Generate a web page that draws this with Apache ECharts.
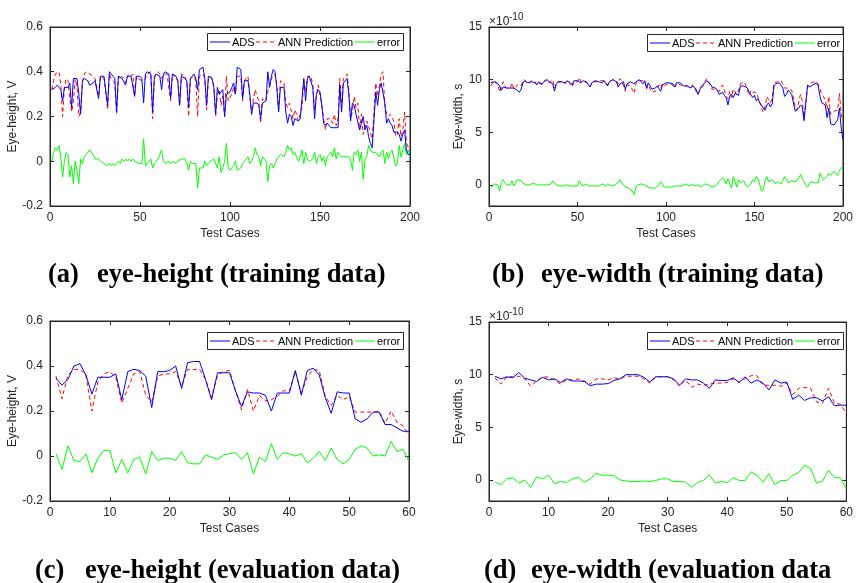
<!DOCTYPE html>
<html>
<head>
<meta charset="utf-8">
<script src="https://cdn.jsdelivr.net/npm/echarts@6/dist/echarts.min.js"></script>
<style>
	html, body { margin: 0; padding: 0; background: #fff; }
	#chart { width: 856px; height: 583px; }
</style>
</head>
<body>
<div id="chart"></div>
<script>
	// (a) eye-height, training data (200 test cases), V
	var adsHeightTrain = [
		0.32,0.32,0.33,0.34,0.33,0.32,0.27,0.33,0.33,0.33, 0.35,0.24,0.37,0.37,0.37,0.30,0.21,0.36,0.37,0.37,
		0.36,0.34,0.34,0.35,0.36,0.36,0.28,0.38,0.38,0.38, 0.38,0.25,0.40,0.39,0.38,0.37,0.22,0.38,0.38,0.37,
		0.37,0.34,0.38,0.38,0.38,0.38,0.29,0.38,0.38,0.38, 0.37,0.26,0.39,0.40,0.40,0.39,0.22,0.38,0.39,0.39,
		0.38,0.32,0.39,0.40,0.40,0.39,0.28,0.39,0.39,0.38, 0.36,0.25,0.38,0.38,0.37,0.36,0.24,0.37,0.38,0.39,
		0.37,0.32,0.41,0.41,0.42,0.37,0.25,0.38,0.38,0.37, 0.33,0.21,0.33,0.30,0.30,0.32,0.20,0.30,0.30,0.31,
		0.33,0.35,0.30,0.42,0.42,0.41,0.28,0.36,0.36,0.36, 0.30,0.21,0.26,0.26,0.26,0.25,0.19,0.26,0.26,0.27,
		0.40,0.33,0.38,0.41,0.40,0.33,0.22,0.33,0.33,0.33, 0.22,0.17,0.21,0.20,0.16,0.19,0.19,0.18,0.19,0.19,
		0.37,0.27,0.37,0.38,0.38,0.33,0.19,0.30,0.32,0.31, 0.25,0.17,0.16,0.17,0.16,0.15,0.15,0.15,0.15,0.15,
		0.34,0.22,0.35,0.36,0.37,0.30,0.18,0.26,0.25,0.21, 0.21,0.14,0.17,0.20,0.14,0.16,0.11,0.08,0.06,0.06,
		0.31,0.25,0.32,0.35,0.35,0.26,0.17,0.19,0.17,0.16, 0.13,0.13,0.13,0.12,0.09,0.12,0.14,0.05,0.03,0.03
	];
	var annHeightTrain = [
		0.32,0.36,0.39,0.39,0.40,0.34,0.20,0.33,0.37,0.36, 0.28,0.22,0.27,0.37,0.33,0.20,0.22,0.35,0.39,0.40,
		0.40,0.39,0.39,0.38,0.37,0.37,0.29,0.38,0.38,0.37, 0.37,0.23,0.39,0.37,0.37,0.35,0.21,0.38,0.37,0.38,
		0.37,0.35,0.38,0.39,0.38,0.39,0.29,0.38,0.37,0.37, 0.36,0.36,0.37,0.39,0.39,0.40,0.19,0.37,0.39,0.40,
		0.39,0.37,0.39,0.39,0.39,0.39,0.27,0.39,0.39,0.37, 0.36,0.25,0.39,0.39,0.38,0.35,0.20,0.37,0.37,0.38,
		0.36,0.20,0.38,0.38,0.39,0.37,0.23,0.37,0.38,0.37, 0.34,0.20,0.30,0.32,0.25,0.29,0.20,0.38,0.27,0.27,
		0.30,0.33,0.30,0.38,0.38,0.38,0.27,0.36,0.36,0.38, 0.29,0.21,0.28,0.32,0.29,0.27,0.17,0.28,0.28,0.27,
		0.31,0.31,0.37,0.38,0.39,0.34,0.23,0.36,0.36,0.35, 0.26,0.24,0.26,0.26,0.19,0.23,0.21,0.18,0.21,0.24,
		0.36,0.31,0.38,0.38,0.38,0.34,0.23,0.29,0.34,0.34, 0.25,0.19,0.14,0.19,0.19,0.19,0.17,0.21,0.16,0.19,
		0.37,0.24,0.37,0.38,0.39,0.32,0.19,0.22,0.29,0.24, 0.26,0.14,0.21,0.12,0.15,0.18,0.18,0.13,0.10,0.10,
		0.35,0.29,0.34,0.39,0.40,0.25,0.21,0.20,0.21,0.21, 0.18,0.11,0.12,0.19,0.11,0.14,0.22,0.08,0.08,0.05
	];
	var errHeightTrain = [
		0.00,0.04,0.06,0.05,0.07,0.02,-0.07,0.00,0.04,0.03, -0.07,-0.02,-0.10,0.00,-0.04,-0.10,0.01,-0.01,0.02,0.03,
		0.04,0.05,0.05,0.03,0.01,0.01,0.01,0.00,0.00,-0.01, -0.01,-0.02,-0.01,-0.02,-0.01,-0.02,-0.01,0.00,-0.01,0.01,
		0.00,0.01,0.00,0.01,0.00,0.01,0.00,0.00,-0.01,-0.01, -0.01,0.10,-0.02,-0.01,-0.01,0.01,-0.03,-0.01,0.00,0.01,
		0.01,0.05,0.00,-0.01,-0.01,0.00,-0.01,0.00,0.00,-0.01, 0.00,0.00,0.01,0.01,0.01,-0.01,-0.04,0.00,-0.01,-0.01,
		-0.01,-0.12,-0.03,-0.03,-0.03,0.00,-0.02,-0.01,0.00,0.00, 0.01,-0.01,-0.03,0.02,-0.05,-0.03,0.00,0.08,-0.03,-0.04,
		-0.03,-0.02,0.00,-0.04,-0.04,-0.03,-0.01,0.00,0.00,0.02, -0.01,0.00,0.02,0.06,0.03,0.02,-0.02,0.02,0.02,0.00,
		-0.09,-0.02,-0.01,-0.03,-0.01,0.01,0.01,0.03,0.03,0.02, 0.04,0.07,0.05,0.06,0.03,0.04,0.02,0.00,0.02,0.05,
		-0.01,0.04,0.01,0.00,0.00,0.01,0.04,-0.01,0.02,0.03, 0.00,0.02,-0.02,0.02,0.03,0.04,0.02,0.06,0.01,0.04,
		0.03,0.02,0.02,0.02,0.02,0.02,0.01,-0.04,0.04,0.03, 0.05,0.00,0.04,-0.08,0.01,0.02,0.07,0.05,0.04,0.04,
		0.04,0.04,0.02,0.04,0.05,-0.01,0.04,0.01,0.04,0.05, 0.05,-0.02,-0.01,0.07,0.02,0.02,0.08,0.03,0.05,0.02
	];

	// (b) eye-width, training data, in units of 1e-10 s
	var adsWidthTrain = [
		9.7,9.7,9.8,9.7,9.6,9.4,9.0,9.3,9.2,9.2, 9.3,9.2,9.3,9.2,9.1,9.0,8.8,9.0,9.6,9.9,
		9.8,9.7,9.6,9.8,9.7,9.7,9.5,9.8,9.8,9.6, 9.8,9.9,10.0,9.8,9.7,9.6,8.9,9.6,9.8,9.9,
		9.8,9.9,9.7,9.9,9.8,9.7,9.5,9.9,9.8,9.9, 9.8,9.7,9.9,9.8,9.8,9.7,9.3,9.7,9.8,9.9,
		9.8,9.8,9.9,9.7,9.9,9.8,9.4,9.8,9.9,10.0, 9.9,9.8,9.3,9.6,9.7,9.8,9.1,9.6,9.7,9.8,
		9.9,9.6,9.8,9.9,10.0,9.8,9.6,9.9,9.2,9.7, 9.4,9.1,9.0,9.2,9.4,9.5,8.9,9.5,9.6,9.7,
		9.8,9.7,9.8,9.6,9.3,9.7,9.8,9.7,9.6,9.4, 9.3,9.4,9.5,9.2,9.4,9.3,9.1,8.6,9.0,9.4,
		9.5,9.7,9.9,9.8,9.6,9.3,9.4,9.2,9.0,8.6, 8.7,8.8,8.5,8.3,7.6,8.4,8.6,8.3,8.7,8.8,
		8.5,9.4,9.5,9.4,9.5,9.2,8.8,8.9,8.3,8.5, 8.0,8.2,7.8,7.9,7.3,7.1,7.6,7.8,7.4,7.7,
		9.4,9.6,9.5,9.7,9.8,9.2,8.4,8.6,9.0,9.0, 8.6,7.8,7.0,6.9,7.3,7.6,7.4,6.1,7.8,9.5,
		9.3,9.4,9.5,9.6,9.7,9.4,8.4,7.8,7.9,7.6, 6.4,7.3,5.8,5.7,5.7,5.8,6.2,7.3,5.4,4.3
	];
	var annWidthTrain = [
		9.4,9.5,9.9,9.9,9.6,8.8,9.3,9.8,9.4,9.2, 9.2,9.2,9.7,9.1,9.3,9.5,9.4,9.4,9.8,10.0,
		9.8,9.6,9.6,9.9,9.9,9.8,9.5,9.7,9.8,9.5, 9.8,10.0,10.0,9.7,9.8,10.0,9.2,9.6,9.7,9.8,
		9.8,9.8,9.6,9.9,9.9,9.6,9.3,9.8,9.8,9.8, 10.2,9.8,9.8,9.8,9.9,9.6,9.3,9.6,9.8,9.8,
		9.8,9.7,9.9,9.8,9.9,9.7,9.5,9.8,9.8,10.0, 9.9,9.9,9.6,10.1,9.9,9.8,8.9,9.5,9.4,9.4,
		9.3,8.7,9.6,9.9,9.9,9.9,9.8,9.9,9.1,9.5, 9.1,8.8,8.8,8.9,9.2,9.5,9.2,9.6,9.4,9.4,
		9.6,9.6,9.6,9.5,9.2,9.7,9.7,9.5,9.5,9.4, 9.4,9.4,9.4,9.2,9.5,9.2,8.9,8.6,8.9,9.2,
		9.4,9.8,10.1,9.8,9.5,9.1,9.1,9.1,9.1,8.9, 9.2,9.5,9.0,8.4,8.2,8.9,8.3,9.1,9.0,8.6,
		9.0,9.6,9.6,9.8,9.5,9.0,8.5,9.0,8.8,8.8, 8.8,8.8,7.8,7.3,6.9,7.5,8.4,8.1,7.8,8.2,
		9.7,9.7,9.8,9.9,9.9,9.6,9.2,9.2,9.2,9.2, 9.0,8.3,7.3,7.1,7.9,8.6,8.0,6.4,7.8,9.3,
		9.4,9.7,9.8,9.8,9.8,9.6,9.5,8.6,8.4,8.0, 7.2,8.4,6.7,6.7,7.0,7.0,7.1,8.7,6.7,6.1
	];
	var errWidthTrain = [
		-0.3,-0.2,0.1,0.2,0.0,-0.6,0.3,0.5,0.2,0.0, -0.1,0.0,0.4,-0.1,0.2,0.5,0.6,0.4,0.2,0.1,
		0.0,-0.1,0.0,0.1,0.2,0.1,0.0,-0.1,0.0,-0.1, 0.0,0.1,0.0,-0.1,0.1,0.4,0.3,0.0,-0.1,-0.1,
		0.0,-0.1,-0.1,0.0,0.1,-0.1,-0.2,-0.1,0.0,-0.1, 0.4,0.1,-0.1,0.0,0.1,-0.1,0.0,-0.1,0.0,-0.1,
		0.0,-0.1,0.0,0.1,0.0,-0.1,0.1,0.0,-0.1,0.0, 0.0,0.1,0.3,0.5,0.2,0.0,-0.2,-0.1,-0.3,-0.4,
		-0.6,-0.9,-0.2,0.0,-0.1,0.1,0.2,0.0,-0.1,-0.2, -0.3,-0.3,-0.2,-0.3,-0.2,0.0,0.3,0.1,-0.2,-0.3,
		-0.2,-0.1,-0.2,-0.1,-0.1,0.0,-0.1,-0.2,-0.1,0.0, 0.1,0.0,-0.1,0.0,0.1,-0.1,-0.2,0.0,-0.1,-0.2,
		-0.1,0.1,0.2,0.0,-0.1,-0.2,-0.3,-0.1,0.1,0.3, 0.5,0.7,0.5,0.1,0.6,0.5,-0.3,0.8,0.3,-0.2,
		0.5,0.2,0.1,0.4,0.0,-0.2,-0.3,0.1,0.5,0.3, 0.8,0.6,0.0,-0.6,-0.4,0.4,0.8,0.3,0.4,0.5,
		0.3,0.1,0.3,0.2,0.1,0.4,0.8,0.6,0.2,0.2, 0.4,0.5,0.3,0.2,0.6,1.0,0.6,0.3,0.0,-0.2,
		0.1,0.3,0.3,0.2,0.1,0.2,1.1,0.8,0.5,0.4, 0.8,1.1,0.9,1.0,1.3,1.2,0.9,1.4,1.3,1.8
	];

	// (c) eye-height, evaluation data (60 test cases), V
	var adsHeightEval = [
		0.345,0.315,0.34,0.40,0.41,0.36,0.275,0.35,0.35,0.35, 0.365,0.25,0.375,0.385,0.38,0.355,0.215,0.375,0.375,0.38,
		0.40,0.30,0.415,0.42,0.42,0.34,0.25,0.37,0.37,0.37, 0.29,0.22,0.285,0.28,0.28,0.27,0.20,0.28,0.28,0.28,
		0.38,0.27,0.38,0.39,0.36,0.26,0.19,0.285,0.28,0.28, 0.165,0.15,0.165,0.195,0.195,0.14,0.14,0.125,0.11,0.11
	];
	var annHeightEval = [
		0.355,0.255,0.36,0.385,0.385,0.36,0.20,0.33,0.365,0.375, 0.35,0.235,0.30,0.365,0.375,0.27,0.24,0.355,0.365,0.365,
		0.375,0.31,0.385,0.385,0.385,0.34,0.26,0.36,0.375,0.38, 0.29,0.205,0.295,0.20,0.27,0.245,0.25,0.265,0.29,0.29,
		0.375,0.28,0.35,0.385,0.38,0.265,0.225,0.27,0.25,0.265, 0.195,0.195,0.195,0.195,0.20,0.145,0.20,0.15,0.135,0.09
	];
	var errHeightEval = [
		0.01,-0.06,0.045,-0.02,-0.025,0.01,-0.075,-0.01,0.025,0.025, -0.075,-0.015,-0.075,-0.015,-0.005,-0.08,0.02,-0.02,-0.01,-0.01,
		-0.02,0.02,-0.03,-0.035,-0.035,0.005,-0.005,-0.015,0.005,0.01, 0.015,-0.015,0.015,-0.08,-0.005,-0.025,0.055,-0.015,0.015,0.01,
		0.0,0.01,-0.03,-0.01,0.02,-0.02,0.035,-0.015,-0.035,-0.015, 0.03,0.045,0.035,0.0,0.005,0.0,0.065,0.02,0.03,-0.025
	];

	// (d) eye-width, evaluation data, in units of 1e-10 s
	var adsWidthEval = [
		9.85,9.6,9.8,9.7,10.2,9.65,9.5,9.35,9.75,9.5, 9.6,9.25,9.6,9.4,9.4,9.35,8.95,9.1,9.1,9.15,
		9.45,9.6,10.0,10.0,10.0,9.75,9.3,9.8,9.8,9.8, 9.6,9.0,9.6,9.5,9.5,9.2,8.7,9.5,9.45,9.45,
		9.7,9.25,9.8,9.2,9.5,9.2,8.55,9.5,9.2,9.3, 7.65,8.05,7.55,7.8,7.8,7.5,7.9,7.05,7.1,7.1
	];
	var annWidthEval = [
		9.7,9.1,9.8,9.8,9.85,9.6,8.9,9.4,9.8,9.75, 9.5,9.1,9.5,9.5,9.6,9.4,9.1,9.6,9.6,9.5,
		9.7,9.6,9.85,9.85,9.85,9.6,9.2,9.75,9.8,9.8, 9.5,8.9,9.5,8.8,9.1,9.0,9.1,9.2,9.2,9.25,
		9.6,9.3,9.6,9.9,9.9,9.0,9.0,9.0,8.9,9.2, 8.1,8.7,8.8,8.7,7.4,7.3,8.7,7.3,7.2,6.3
	];
	var errWidthEval = [
		-0.2,-0.45,0.1,0.2,-0.3,0.0,-0.7,0.3,0.1,0.45, -0.35,-0.15,-0.25,0.1,0.25,-0.2,0.1,0.65,0.45,0.45,
		0.4,0.0,-0.1,-0.15,-0.15,-0.1,-0.15,-0.05,0.1,0.1, -0.15,-0.15,-0.2,-0.7,-0.25,-0.05,0.5,-0.3,-0.15,-0.25,
		0.2,-0.05,-0.05,0.75,0.45,-0.2,0.6,-0.45,-0.05,-0.05, 0.45,0.7,1.4,1.1,-0.3,-0.1,0.9,0.25,0.2,-0.8
	];

	// tick labels
	var yTicksHeight = [-0.2, 0, 0.2, 0.4, 0.6];
	var yTicksWidth = [0, 5, 10, 15];
	var xTicksTrain = [0, 50, 100, 150, 200];
	var xTicksEval = [0, 10, 20, 30, 40, 50, 60];
	var seriesNames = ['ADS', 'ANN Prediction', 'error'];
	var captions = [
		['(a)', 'eye-height (training data)'],
		['(b)', 'eye-width (training data)'],
		['(c)', 'eye-height (evaluation data)'],
		['(d)', 'eye-width (evaluation data']
	];

	var axisColor = '#262626';
	var sansFont = '"Liberation Sans", Arial, Helvetica, sans-serif';
	var serifFont = '"Liberation Serif", "Times New Roman", serif';

	function toPairs(arr) {
		return arr.map(function (v, i) { return [i + 1, v]; });
	}

	var panels = [
		{ rect: { left: 50, top: 27, width: 360, height: 179 }, xTicks: xTicksTrain, yTicks: yTicksHeight, yMin: -0.2, yMax: 0.6,
			yName: 'Eye-height, V', yGap: 29, legend: { left: 207, top: 33 }, data: [adsHeightTrain, annHeightTrain, errHeightTrain] },
		{ rect: { left: 489, top: 27, width: 360, height: 179 }, xTicks: xTicksTrain, yTicks: yTicksWidth, yMin: -2, yMax: 15,
			yName: 'Eye-width, s', yGap: 21, legend: { left: 647, top: 34 }, data: [adsWidthTrain, annWidthTrain, errWidthTrain] },
		{ rect: { left: 50, top: 321, width: 359, height: 180 }, xTicks: xTicksEval, yTicks: yTicksHeight, yMin: -0.2, yMax: 0.6,
			yName: 'Eye-height, V', yGap: 29, legend: { left: 207, top: 332 }, data: [adsHeightEval, annHeightEval, errHeightEval] },
		{ rect: { left: 489, top: 322, width: 360, height: 179 }, xTicks: xTicksEval, yTicks: yTicksWidth, yMin: -2, yMax: 15,
			yName: 'Eye-width, s', yGap: 21, legend: { left: 647, top: 332 }, data: [adsWidthEval, annWidthEval, errWidthEval] }
	];

	var lineStyles = [
		{ color: '#0000ff', width: 1, type: 'solid' },
		{ color: '#ff0000', width: 1, type: [4, 3] },
		{ color: '#00ff00', width: 1, type: 'solid' }
	];

	// legend box layout (relative to the box): key line start and end, label start
	var keyLayout = [[3, 23, 25], [49, 69, 71], [148, 168, 170]];
	var legendW = 196, legendH = 17;

	function legendGroup(pos) {
		var children = [{ type: 'rect', shape: { x: 0.5, y: 0.5, width: legendW, height: legendH },
			style: { fill: '#fff', stroke: axisColor, lineWidth: 1 } }];
		seriesNames.forEach(function (n, s) {
			var ls = lineStyles[s];
			children.push({ type: 'line',
				shape: { x1: keyLayout[s][0], y1: legendH / 2 + 0.5, x2: keyLayout[s][1], y2: legendH / 2 + 0.5 },
				style: { stroke: ls.color, lineWidth: 1, lineDash: ls.type === 'solid' ? null : ls.type } });
			children.push({ type: 'text', x: keyLayout[s][2], y: legendH / 2 + 1,
				style: { text: n, fill: '#000', font: '11px ' + sansFont, verticalAlign: 'middle' } });
		});
		return { type: 'group', left: pos.left, top: pos.top, z: 100, children: children };
	}

	var option = {
		animation: false,
		backgroundColor: '#fff',
		grid: [], xAxis: [], yAxis: [], series: [], graphic: []
	};

	panels.forEach(function (p, k) {
		var xMax = p.xTicks[p.xTicks.length - 1];
		option.grid.push({ left: p.rect.left, top: p.rect.top, width: p.rect.width, height: p.rect.height,
			show: true, borderColor: axisColor, borderWidth: 1, backgroundColor: '#fff' });

		var tick = { show: true, inside: true, length: 4, lineStyle: { color: axisColor, width: 1 } };
		// bottom / left axes carry labels, top / right mirror the ticks like a boxed plot
		option.xAxis.push({
			gridIndex: k, type: 'value', position: 'bottom', min: 0, max: xMax,
			name: 'Test Cases', nameLocation: 'middle', nameGap: 22,
			nameTextStyle: { color: axisColor, fontSize: 12, fontFamily: sansFont },
			axisLine: { show: true, onZero: false, lineStyle: { color: axisColor } },
			axisTick: Object.assign({ customValues: p.xTicks }, tick),
			axisLabel: { customValues: p.xTicks, color: axisColor, fontSize: 12, fontFamily: sansFont, margin: 6 },
			splitLine: { show: false }
		});
		option.xAxis.push({
			gridIndex: k, type: 'value', position: 'top', min: 0, max: xMax,
			axisLine: { show: true, onZero: false, lineStyle: { color: axisColor } },
			axisTick: Object.assign({ customValues: p.xTicks }, tick),
			axisLabel: { show: false }, splitLine: { show: false }
		});
		option.yAxis.push({
			gridIndex: k, type: 'value', position: 'left', min: p.yMin, max: p.yMax,
			name: p.yName, nameLocation: 'middle', nameGap: p.yGap,
			nameTextStyle: { color: axisColor, fontSize: 12, fontFamily: sansFont },
			axisLine: { show: true, onZero: false, lineStyle: { color: axisColor } },
			axisTick: Object.assign({ customValues: p.yTicks }, tick),
			axisLabel: { customValues: p.yTicks, color: axisColor, fontSize: 12, fontFamily: sansFont, margin: 7 },
			splitLine: { show: false }
		});
		option.yAxis.push({
			gridIndex: k, type: 'value', position: 'right', min: p.yMin, max: p.yMax,
			axisLine: { show: true, onZero: false, lineStyle: { color: axisColor } },
			axisTick: Object.assign({ customValues: p.yTicks }, tick),
			axisLabel: { show: false }, splitLine: { show: false }
		});

		p.data.forEach(function (arr, s) {
			option.series.push({
				name: seriesNames[s], type: 'line', xAxisIndex: 2 * k, yAxisIndex: 2 * k,
				data: toPairs(arr), symbol: 'none', showSymbol: false, clip: true,
				lineStyle: lineStyles[s], itemStyle: { color: lineStyles[s].color },
				z: 3 - s
			});
		});

		option.graphic.push(legendGroup(p.legend));

		// exponent label for the width panels
		if (p.yMax === 15) {
			option.graphic.push({ type: 'text', left: p.rect.left, top: p.rect.top - 11,
				style: { text: '\u00d710', fill: axisColor, font: '12px ' + sansFont } });
			option.graphic.push({ type: 'text', left: p.rect.left + 20, top: p.rect.top - 15,
				style: { text: '-10', fill: axisColor, font: '10px ' + sansFont } });
		}
	});

	// sub-figure captions: [label x, text x, centre y]
	var capPos = [[48, 97, 275], [492, 541, 275], [35, 85, 571], [484, 531, 571]];
	captions.forEach(function (c, k) {
		option.graphic.push({ type: 'text', x: capPos[k][0], y: capPos[k][2],
			style: { text: c[0], fill: '#000', font: 'bold 26.5px ' + serifFont, verticalAlign: 'middle' } });
		option.graphic.push({ type: 'text', x: capPos[k][1], y: capPos[k][2],
			style: { text: c[1], fill: '#000', font: 'bold 26.5px ' + serifFont, verticalAlign: 'middle' } });
	});

	var myChart = echarts.init(document.getElementById('chart'));
	myChart.setOption(option);
</script>
</body>
</html>
